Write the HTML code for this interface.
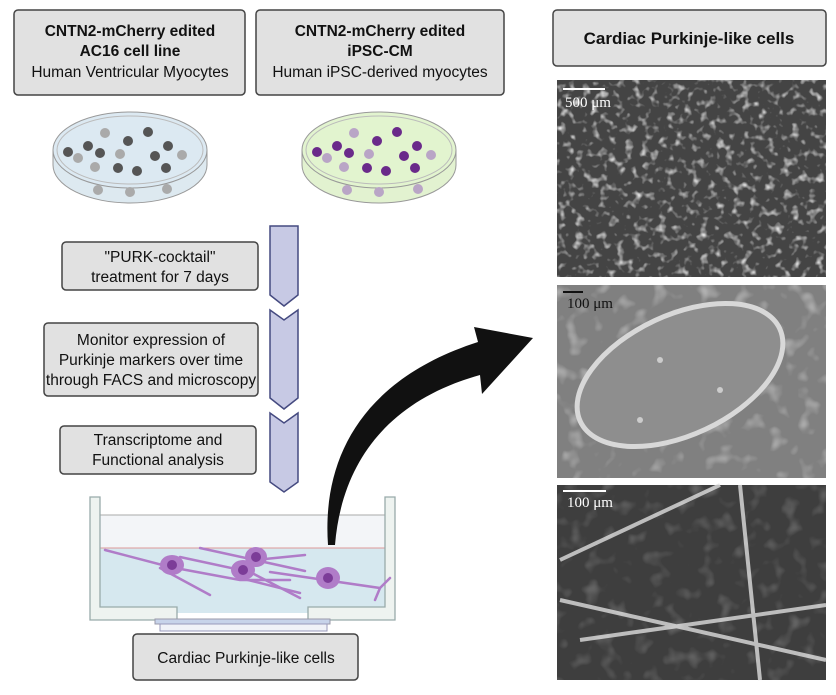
<!DOCTYPE html>
<html><head><meta charset="utf-8"><style>
body{margin:0;background:#fff}
svg text{font-family:"Liberation Sans",sans-serif}
</style></head><body>
<svg width="836" height="690" viewBox="0 0 836 690" xmlns="http://www.w3.org/2000/svg">
<defs>
<filter id="tex" x="0" y="0" width="100%" height="100%">
<feTurbulence type="fractalNoise" baseFrequency="0.12" numOctaves="2" seed="3"/>
<feColorMatrix values="0 0 0 0 1  0 0 0 0 1  0 0 0 0 1  0 0 0 3 -1.6"/>
</filter>
<filter id="tex2" x="0" y="0" width="100%" height="100%">
<feTurbulence type="fractalNoise" baseFrequency="0.06" numOctaves="2" seed="7"/>
<feColorMatrix values="0 0 0 0 1  0 0 0 0 1  0 0 0 0 1  0 0 0 2 -1.1"/>
</filter>
</defs>
<!-- top boxes -->
<rect x="14" y="10" width="231" height="85" rx="4" fill="#e1e1e1" stroke="#444" stroke-width="1.5"/>
<text x="130" y="36" font-size="15.5" font-weight="bold" text-anchor="middle" fill="#111">CNTN2-mCherry edited</text>
<text x="130" y="56" font-size="15.5" font-weight="bold" text-anchor="middle" fill="#111">AC16 cell line</text>
<text x="130" y="77" font-size="15.5" text-anchor="middle" fill="#111">Human Ventricular Myocytes</text>
<rect x="256" y="10" width="248" height="85" rx="4" fill="#e1e1e1" stroke="#444" stroke-width="1.5"/>
<text x="380" y="36" font-size="15.5" font-weight="bold" text-anchor="middle" fill="#111">CNTN2-mCherry edited</text>
<text x="380" y="56" font-size="15.5" font-weight="bold" text-anchor="middle" fill="#111">iPSC-CM</text>
<text x="380" y="77" font-size="15.5" text-anchor="middle" fill="#111">Human iPSC-derived myocytes</text>
<rect x="553" y="10" width="273" height="56" rx="4" fill="#e1e1e1" stroke="#444" stroke-width="1.5"/>
<text x="689" y="44" font-size="17" font-weight="bold" text-anchor="middle" fill="#111">Cardiac Purkinje-like cells</text>
<!-- dish 1 -->
<path d="M53 150 L53 165 A77 38 0 0 0 207 165 L207 150" fill="#dde9f0" stroke="#999"/>
<ellipse cx="130" cy="150" rx="77" ry="38" fill="#dce9f2" stroke="#999"/>
<ellipse cx="130" cy="150" rx="73" ry="34" fill="none" stroke="#bbb"/>
<g fill="#555"><circle cx="68" cy="152" r="5"/><circle cx="88" cy="146" r="5"/><circle cx="100" cy="153" r="5"/><circle cx="128" cy="141" r="5"/><circle cx="148" cy="132" r="5"/><circle cx="168" cy="146" r="5"/><circle cx="155" cy="156" r="5"/><circle cx="118" cy="168" r="5"/><circle cx="137" cy="171" r="5"/><circle cx="166" cy="168" r="5"/></g>
<g fill="#aaa"><circle cx="105" cy="133" r="5"/><circle cx="78" cy="158" r="5"/><circle cx="120" cy="154" r="5"/><circle cx="182" cy="155" r="5"/><circle cx="95" cy="167" r="5"/><circle cx="98" cy="190" r="5"/><circle cx="130" cy="192" r="5"/><circle cx="167" cy="189" r="5"/></g>
<!-- dish 2 -->
<path d="M302 150 L302 165 A77 38 0 0 0 456 165 L456 150" fill="#e2f2d0" stroke="#999"/>
<ellipse cx="379" cy="150" rx="77" ry="38" fill="#e2f4cf" stroke="#999"/>
<ellipse cx="379" cy="150" rx="73" ry="34" fill="none" stroke="#bbb"/>
<g fill="#6a2a8a"><circle cx="317" cy="152" r="5"/><circle cx="337" cy="146" r="5"/><circle cx="349" cy="153" r="5"/><circle cx="377" cy="141" r="5"/><circle cx="397" cy="132" r="5"/><circle cx="417" cy="146" r="5"/><circle cx="404" cy="156" r="5"/><circle cx="367" cy="168" r="5"/><circle cx="386" cy="171" r="5"/><circle cx="415" cy="168" r="5"/></g>
<g fill="#b9a5c6"><circle cx="354" cy="133" r="5"/><circle cx="327" cy="158" r="5"/><circle cx="369" cy="154" r="5"/><circle cx="431" cy="155" r="5"/><circle cx="344" cy="167" r="5"/><circle cx="347" cy="190" r="5"/><circle cx="379" cy="192" r="5"/><circle cx="418" cy="189" r="5"/></g>
<!-- chevron column -->
<g fill="#c7c9e4" stroke="#454a80" stroke-width="1.5">
<path d="M270 226 L298 226 L298 295 L284 306 L270 295 Z"/>
<path d="M270 310 L284 320 L298 310 L298 398 L284 409 L270 398 Z"/>
<path d="M270 413 L284 423 L298 413 L298 482 L284 492 L270 482 Z"/>
</g>
<!-- step boxes -->
<rect x="62" y="242" width="196" height="48" rx="4" fill="#e1e1e1" stroke="#444" stroke-width="1.5"/>
<text x="160" y="262" font-size="15.5" text-anchor="middle" fill="#111">"PURK-cocktail"</text>
<text x="160" y="282" font-size="15.5" text-anchor="middle" fill="#111">treatment for 7 days</text>
<rect x="44" y="323" width="214" height="73" rx="4" fill="#e1e1e1" stroke="#444" stroke-width="1.5"/>
<text x="151" y="345" font-size="15.5" text-anchor="middle" fill="#111">Monitor expression of</text>
<text x="151" y="365" font-size="15.5" text-anchor="middle" fill="#111">Purkinje markers over time</text>
<text x="151" y="385" font-size="15.5" text-anchor="middle" fill="#111">through FACS and microscopy</text>
<rect x="60" y="426" width="196" height="48" rx="4" fill="#e1e1e1" stroke="#444" stroke-width="1.5"/>
<text x="158" y="445" font-size="15.5" text-anchor="middle" fill="#111">Transcriptome and</text>
<text x="158" y="465" font-size="15.5" text-anchor="middle" fill="#111">Functional analysis</text>
<!-- culture dish -->
<rect x="100" y="515" width="285" height="95" fill="#f3f5f8"/>
<rect x="100" y="548" width="285" height="65" fill="#d6e8ef"/>
<line x1="100" y1="548" x2="385" y2="548" stroke="#d99" stroke-width="1"/>
<line x1="100" y1="515" x2="385" y2="515" stroke="#aaa" stroke-width="1"/>
<path d="M90 497 L100 497 L100 607 L177 607 L177 620 L90 620 Z" fill="#eef3f0" stroke="#9aa" stroke-width="1.3"/>
<path d="M395 497 L385 497 L385 607 L308 607 L308 620 L395 620 Z" fill="#eef3f0" stroke="#9aa" stroke-width="1.3"/>
<rect x="155" y="619" width="175" height="5" fill="#c7d3ea" stroke="#99a"/>
<rect x="160" y="624" width="167" height="7" fill="#f0f2f8" stroke="#99b"/>
<g stroke="#b07cc8" stroke-width="2.5" fill="none" stroke-linecap="round">
<path d="M105 550 L170 567 L240 580 L290 580"/>
<path d="M180 557 L250 572 L300 598"/>
<path d="M200 548 L255 560 L305 571"/>
<path d="M160 568 L210 595"/>
<path d="M270 572 L380 588 L390 578 M380 588 L375 600"/>
<path d="M240 578 L300 593"/>
<path d="M255 560 L305 555"/>
</g>
<g fill="#b07cc8"><ellipse cx="172" cy="565" rx="12" ry="10"/><ellipse cx="243" cy="570" rx="12" ry="10"/><ellipse cx="256" cy="557" rx="11" ry="10"/><ellipse cx="328" cy="578" rx="12" ry="11"/></g>
<g fill="#7c3c98"><circle cx="172" cy="565" r="5"/><circle cx="243" cy="570" r="5"/><circle cx="256" cy="557" r="5"/><circle cx="328" cy="578" r="5"/></g>
<rect x="133" y="634" width="225" height="46" rx="4" fill="#e1e1e1" stroke="#444" stroke-width="1.5"/>
<text x="246" y="663" font-size="15.5" text-anchor="middle" fill="#111">Cardiac Purkinje-like cells</text>
<!-- curved black arrow -->
<path d="M328 545 C322 460 360 380 478 342 L474 327 L533 338 L482 394 L480 375 C390 400 342 460 335 545 Z" fill="#111"/>
<!-- micrographs -->
<rect x="557" y="80" width="269" height="197" fill="#444"/>
<rect x="557" y="80" width="269" height="197" filter="url(#tex)" opacity="0.85"/>
<rect x="557" y="285" width="269" height="193" fill="#808080"/>
<rect x="557" y="285" width="269" height="193" filter="url(#tex2)" opacity="0.6"/>
<ellipse cx="680" cy="375" rx="110" ry="60" transform="rotate(-25 680 375)" fill="#8e8e8e" stroke="#d8d8d8" stroke-width="5"/>
<circle cx="640" cy="420" r="3" fill="#ccc"/><circle cx="720" cy="390" r="3" fill="#ccc"/><circle cx="660" cy="360" r="3" fill="#ccc"/>
<rect x="557" y="485" width="269" height="195" fill="#3e3e3e"/>
<path d="M560 560 L720 485 M560 600 L826 660 M740 485 L760 680 M580 640 L826 605" stroke="#ddd" stroke-width="4" fill="none" opacity="0.8"/>
<rect x="557" y="485" width="269" height="195" filter="url(#tex2)" opacity="0.3"/>
<g fill="#fff" font-size="15">
<line x1="563" y1="89" x2="605" y2="89" stroke="#fff" stroke-width="2"/><text x="565" y="107" style="font-family:'Liberation Serif',serif">500 μm</text>
<line x1="563" y1="292" x2="583" y2="292" stroke="#111" stroke-width="2"/><text x="567" y="308" fill="#111" style="font-family:'Liberation Serif',serif">100 μm</text>
<line x1="563" y1="491" x2="606" y2="491" stroke="#fff" stroke-width="2"/><text x="567" y="507" style="font-family:'Liberation Serif',serif">100 μm</text>
</g>
</svg>
</body></html>
